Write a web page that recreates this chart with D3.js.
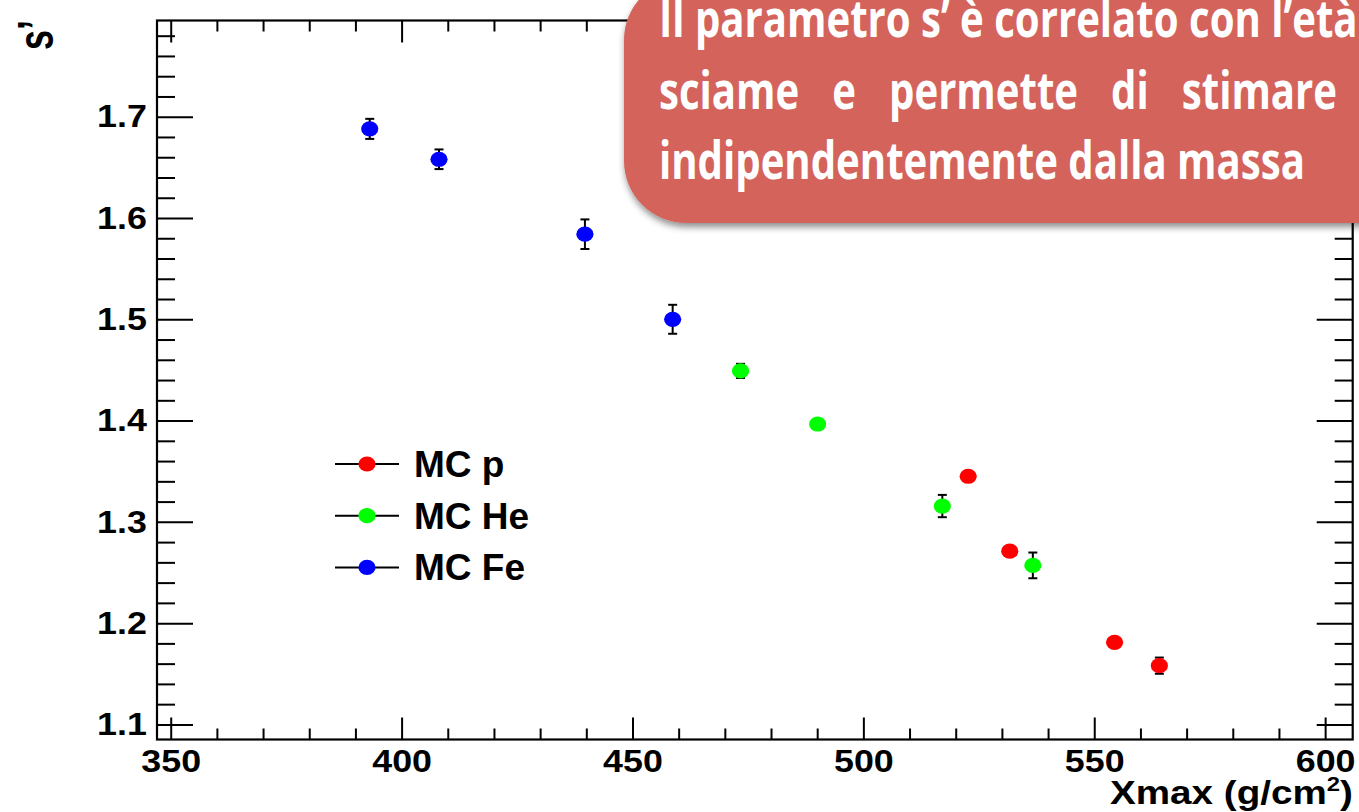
<!DOCTYPE html>
<html>
<head>
<meta charset="utf-8">
<script src="https://cdn.jsdelivr.net/npm/d3@7"></script>
<style>
  html, body { margin: 0; padding: 0; background: #fff; }
  svg { display: block; }
</style>
</head>
<body>
<svg id="chart" width="1359" height="812"></svg>
<script>
// Monte Carlo showers: mean age parameter s' versus Xmax, per primary
const xmaxP  = [522.7, 531.7, 554.4, 564.1];
const sP     = [1.345, 1.271, 1.181, 1.158];
const errP   = [0.004, 0.004, 0.004, 0.008];

const xmaxHe = [473.4, 490.1, 517.1, 536.7];
const sHe    = [1.449, 1.3966, 1.3156, 1.257];
const errHe  = [0.007, 0.004, 0.011, 0.0127];

const xmaxFe = [393.1, 408.1, 439.7, 458.7];
const sFe    = [1.688, 1.658, 1.584, 1.500];
const errFe  = [0.0099, 0.0097, 0.0146, 0.0143];

const seriesNames  = ["MC p", "MC He", "MC Fe"];
const seriesColors = ["#ff0000", "#00ff00", "#0000ff"];

const xMajorTicks = [350, 400, 450, 500, 550, 600];
const yMajorTicks = [1.1, 1.2, 1.3, 1.4, 1.5, 1.6, 1.7];

const calloutLines = [
  "Il parametro s\u2019 \u00e8 correlato con l\u2019et\u00e0",
  "sciame e permette di stimare",
  "indipendentemente dalla massa"
];

const series = [
  { name: seriesNames[0], color: seriesColors[0], x: xmaxP,  y: sP,  e: errP },
  { name: seriesNames[1], color: seriesColors[1], x: xmaxHe, y: sHe, e: errHe },
  { name: seriesNames[2], color: seriesColors[2], x: xmaxFe, y: sFe, e: errFe }
];

const svg = d3.select("#chart");
const frame = { left: 157, right: 1352.7, top: 20.5, bottom: 739.5 };

const x = d3.scaleLinear().domain([347.03, 605.97]).range([frame.left, frame.right]);
const y = d3.scaleLinear().domain([1.0851, 1.795]).range([frame.bottom, frame.top]);

const tickFont = "'Liberation Sans', Arial, Helvetica, sans-serif";

// minor ticks every 10 g/cm2 and every 0.02 in s'
const xMinor = d3.range(350, 606, 10).filter(v => v % 50 !== 0);
const yMinor = d3.range(1.10, 1.795, 0.02).map(v => +v.toFixed(2))
  .filter(v => Math.abs(v * 10 - Math.round(v * 10)) > 1e-6);

function styleAxis(g) {
  g.select(".domain").remove();
  g.selectAll(".tick line").attr("stroke", "#000").attr("stroke-width", 2);
  g.selectAll("text")
    .attr("fill", "#000")
    .attr("transform", "scale(1.12,1)")
    .style("font-family", tickFont)
    .style("font-weight", "bold")
    .style("font-size", "32px");
}

const axes = svg.append("g").attr("class", "axes");

// bottom
axes.append("g").attr("transform", `translate(0,${frame.bottom})`)
  .call(d3.axisBottom(x).tickValues(xMajorTicks).tickSize(-22).tickPadding(10).tickFormat(d3.format("d")))
  .call(styleAxis);
axes.append("g").attr("transform", `translate(0,${frame.bottom})`)
  .call(d3.axisBottom(x).tickValues(xMinor).tickSize(-11).tickFormat(""))
  .call(styleAxis);
// top
axes.append("g").attr("transform", `translate(0,${frame.top})`)
  .call(d3.axisTop(x).tickValues(xMajorTicks).tickSize(-22).tickFormat(""))
  .call(styleAxis);
axes.append("g").attr("transform", `translate(0,${frame.top})`)
  .call(d3.axisTop(x).tickValues(xMinor).tickSize(-11).tickFormat(""))
  .call(styleAxis);
// left
axes.append("g").attr("transform", `translate(${frame.left},0)`)
  .call(d3.axisLeft(y).tickValues(yMajorTicks).tickSize(-36).tickPadding(9).tickFormat(d3.format(".1f")))
  .call(styleAxis);
axes.append("g").attr("transform", `translate(${frame.left},0)`)
  .call(d3.axisLeft(y).tickValues(yMinor).tickSize(-18).tickFormat(""))
  .call(styleAxis);
// right
axes.append("g").attr("transform", `translate(${frame.right},0)`)
  .call(d3.axisRight(y).tickValues(yMajorTicks).tickSize(-36).tickFormat(""))
  .call(styleAxis);
axes.append("g").attr("transform", `translate(${frame.right},0)`)
  .call(d3.axisRight(y).tickValues(yMinor).tickSize(-18).tickFormat(""))
  .call(styleAxis);

// frame
svg.append("rect")
  .attr("x", frame.left).attr("y", frame.top)
  .attr("width", frame.right - frame.left).attr("height", frame.bottom - frame.top)
  .attr("fill", "none").attr("stroke", "#000").attr("stroke-width", 2.2);

// axis titles
const xTitle = svg.append("text")
  .attr("x", 0).attr("y", 0)
  .style("font-family", tickFont).style("font-weight", "bold").style("font-size", "34px")
  .html("Xmax (g/cm<tspan dy='-13' font-size='21px'>2</tspan><tspan dy='13'>)</tspan>");
const xtW = xTitle.node().getComputedTextLength();
const xtScale = (1353 - 1110) / xtW;
xTitle.attr("transform", `translate(1110,804) scale(${xtScale},1)`);

svg.append("g")
  .attr("transform", "translate(53,20) scale(1.4,1) rotate(-90)")
  .append("text")
  .attr("text-anchor", "end")
  .style("font-family", tickFont).style("font-weight", "bold").style("font-size", "36px")
  .text("s\u2019");

// data: error bars then markers
const plot = svg.append("g").attr("class", "points");
series.forEach(s => {
  const pts = s.x.map((xv, i) => ({ x: xv, y: s.y[i], e: s.e[i] }));
  const g = plot.append("g");
  const eb = g.selectAll("g.err").data(pts).join("g").attr("class", "err")
    .attr("stroke", "#000").attr("stroke-width", 2);
  eb.append("line")
    .attr("x1", d => x(d.x)).attr("x2", d => x(d.x))
    .attr("y1", d => y(d.y - d.e)).attr("y2", d => y(d.y + d.e));
  eb.append("line")
    .attr("x1", d => x(d.x) - 4.5).attr("x2", d => x(d.x) + 4.5)
    .attr("y1", d => y(d.y + d.e)).attr("y2", d => y(d.y + d.e));
  eb.append("line")
    .attr("x1", d => x(d.x) - 4.5).attr("x2", d => x(d.x) + 4.5)
    .attr("y1", d => y(d.y - d.e)).attr("y2", d => y(d.y - d.e));
  g.selectAll("ellipse").data(pts).join("ellipse")
    .attr("cx", d => x(d.x)).attr("cy", d => y(d.y))
    .attr("rx", 8.6).attr("ry", 7.6)
    .attr("fill", s.color);
});

// legend
const legend = svg.append("g").attr("transform", "translate(335,464)");
const rows = legend.selectAll("g").data(series).join("g")
  .attr("transform", (d, i) => `translate(0,${i * 51.7})`);
rows.append("line").attr("x1", 0).attr("x2", 64).attr("y1", 0).attr("y2", 0)
  .attr("stroke", "#000").attr("stroke-width", 2);
rows.append("ellipse").attr("cx", 32).attr("cy", 0).attr("rx", 8.6).attr("ry", 7.6)
  .attr("fill", d => d.color);
rows.append("text").attr("x", 79).attr("y", 13)
  .style("font-family", tickFont).style("font-weight", "bold").style("font-size", "37px")
  .attr("fill", "#000")
  .text(d => d.name);

// callout box
const defs = svg.append("defs");
const shadow = defs.append("filter").attr("id", "boxShadow")
  .attr("x", "-10%").attr("y", "-10%").attr("width", "130%").attr("height", "140%");
shadow.append("feDropShadow")
  .attr("dx", 1).attr("dy", 4).attr("stdDeviation", 3.5)
  .attr("flood-color", "#000").attr("flood-opacity", 0.45);

const callout = svg.append("g");
callout.append("rect")
  .attr("x", 624).attr("y", -22).attr("width", 800).attr("height", 245)
  .attr("rx", 62).attr("ry", 62)
  .attr("fill", "#d4645c")
  .attr("filter", "url(#boxShadow)");

const calloutFont = "'Open Sans', 'Noto Sans', sans-serif";
const baselines = [37, 108.5, 178.5];
const textLeft = 659;
const texts = calloutLines.map((line, i) =>
  callout.append("text")
    .attr("x", 0).attr("y", 0)
    .attr("fill", "#fff")
    .style("font-family", calloutFont).style("font-weight", 700).style("font-size", "52px")
    .text(line));

// condense all lines to the width of the final line, justify the middle one
const w3 = texts[2].node().getComputedTextLength();
const f = (1305 - textLeft) / w3;
texts.forEach((t, i) => t.attr("transform", `translate(${textLeft},${baselines[i]}) scale(${f},1)`));
const w2 = texts[1].node().getComputedTextLength();
const gaps = calloutLines[1].split(" ").length - 1;
const extra = ((1337 - textLeft) / f - w2) / gaps;
texts[1].attr("word-spacing", extra);
</script>
</body>
</html>
